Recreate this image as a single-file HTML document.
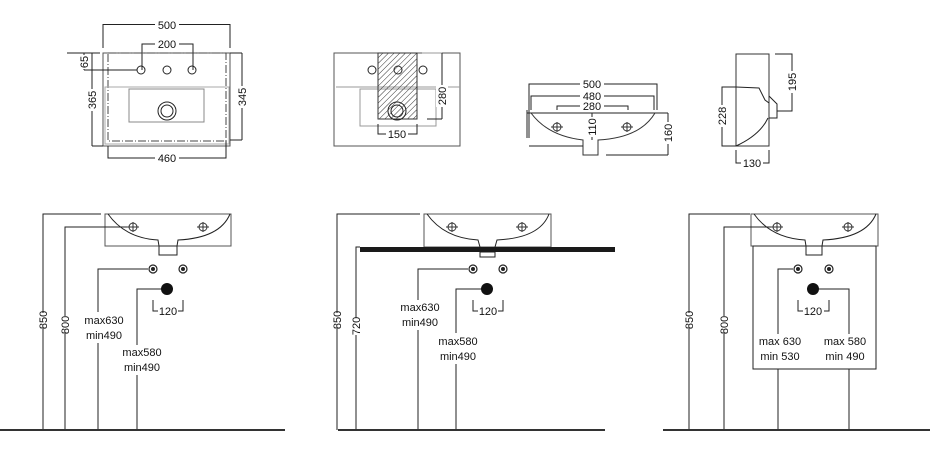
<!DOCTYPE html>
<html><head><meta charset="utf-8"><style>
html,body{margin:0;padding:0;background:#fff;}
svg{display:block;}
text{font-family:"Liberation Sans",Arial,sans-serif;font-size:11px;fill:#111;}
</style></head><body>
<svg width="944" height="463" viewBox="0 0 944 463" xmlns="http://www.w3.org/2000/svg">
<defs>
<pattern id="h" patternUnits="userSpaceOnUse" width="4" height="4" patternTransform="rotate(45)">
<line x1="0" y1="0" x2="0" y2="4" stroke="#333" stroke-width="1"/>
</pattern>
<g id="cross"><circle r="4" fill="none" stroke="#333"/><line x1="-6" y1="0" x2="6" y2="0" stroke="#333"/><line x1="0" y1="-5" x2="0" y2="5" stroke="#333"/></g>
<g id="sup"><circle r="4" fill="#fff" stroke="#222" stroke-width="1.2"/><circle r="2" fill="#222"/></g>
</defs>
<g fill="none" stroke="#222" stroke-width="1">
<!-- ===== Top view 1 ===== -->
<polyline points="103,48 103,24.5 230,24.5 230,48"/>
<polyline points="142,70 142,44 193,44 193,70"/>
<rect x="103" y="53" width="127" height="93" stroke="#555"/>
<rect x="108" y="53" width="118" height="88" stroke="#444" stroke-dasharray="8,2,1,2"/>
<rect x="105" y="87" width="124" height="57" stroke="#aaa"/>
<rect x="129" y="89" width="75" height="33" stroke="#888"/>
<circle cx="167" cy="111" r="9"/><circle cx="167" cy="111" r="6"/>
<circle cx="141" cy="70" r="4"/><circle cx="167" cy="70" r="4"/><circle cx="192" cy="70" r="4"/>
<line x1="67" y1="53" x2="100" y2="53"/>
<line x1="84" y1="70" x2="137" y2="70"/>
<line x1="84" y1="53" x2="84" y2="70"/>
<line x1="92" y1="53" x2="92" y2="146"/><line x1="92" y1="146" x2="103" y2="146"/>
<line x1="230" y1="53" x2="242" y2="53"/><line x1="230" y1="140" x2="242" y2="140"/>
<line x1="242" y1="53" x2="242" y2="140"/>
<polyline points="108,146 108,158 226,158 226,141"/>
<!-- ===== Top view 2 ===== -->
<rect x="334" y="53" width="126" height="93" stroke="#555"/>
<line x1="336" y1="87" x2="460" y2="87" stroke="#999"/>
<rect x="360" y="89" width="76" height="37" stroke="#999"/>
<rect x="378" y="53" width="39" height="66" fill="url(#h)" stroke="#333"/>
<circle cx="372" cy="70" r="4"/><circle cx="398" cy="70" r="4"/><circle cx="423" cy="70" r="4"/>
<circle cx="397" cy="111" r="9"/><circle cx="397" cy="111" r="6"/>
<line x1="422" y1="53" x2="442" y2="53" stroke="#999"/>
<line x1="427" y1="119" x2="442" y2="119"/>
<line x1="442" y1="53" x2="442" y2="119"/>
<polyline points="378,124 378,134 417,134 417,124"/>
<!-- ===== Front view ===== -->
<polyline points="529,138 529,84 657,84 657,110"/>
<polyline points="531,110 531,96 654,96 654,110"/>
<polyline points="557,110 557,106 628,106 628,110"/>
<line x1="527" y1="113" x2="657" y2="113"/>
<line x1="527" y1="110" x2="527" y2="138"/>
<path d="M531,113 Q548,136 583,140 L583,155 L598,155 L598,140 Q640,138 655,113" stroke="#333"/>
<line x1="529" y1="146" x2="583" y2="146"/>
<line x1="606" y1="155" x2="668" y2="155"/>
<line x1="657" y1="113" x2="668" y2="113"/>
<line x1="668" y1="113" x2="668" y2="155"/>
<line x1="592" y1="113" x2="592" y2="140"/>
<!-- side view -->
<rect x="736" y="54" width="33" height="92" stroke="#333"/>
<path d="M736,87 L759,88 L765,100 L769,103 M769,96 L777,104 L777,118 L769,118 M768,118 Q760,135 736,146"/>
<polyline points="775,54 792,54 792,111 777,111"/>
<polyline points="736,87 722,87 722,146 736,146"/>
<polyline points="736,150 736,163 769,163 769,150"/>
<!-- ===== Bottom 1 ===== -->
<rect x="105" y="214" width="126" height="32" stroke="#555"/>
<path d="M108,214 Q125,238 158,240 L159,246 M177,246 L178,240 Q220,238 230,214"/>
<rect x="159" y="246" width="18" height="9"/>
<polyline points="101,214 43,214 43,313"/><line x1="43" y1="328" x2="43" y2="430"/>
<polyline points="130,227 65,227 65,316"/><line x1="65" y1="333" x2="65" y2="430"/>
<polyline points="148,269 98,269 98,312"/><line x1="98" y1="343" x2="98" y2="430"/>
<polyline points="161,289 137,289 137,345"/><line x1="137" y1="375" x2="137" y2="430"/>
<polyline points="153,300 153,311 158,311"/><polyline points="178,311 183,311 183,300"/>
<!-- ===== Bottom 2 ===== -->
<rect x="424" y="214" width="127" height="33" stroke="#555"/>
<path d="M427,214 Q444,238 478,240 L480,247 M495,247 L497,240 Q540,238 549,214"/>
<rect x="480" y="252" width="15" height="5"/>
<polyline points="420,214 337,214 337,313"/><line x1="337" y1="328" x2="337" y2="430"/>
<polyline points="360,247 356,247 356,318"/><line x1="356" y1="335" x2="356" y2="430"/>
<polyline points="468,269 418,269 418,300"/><line x1="418" y1="330" x2="418" y2="430"/>
<polyline points="481,289 456,289 456,333"/><line x1="456" y1="364" x2="456" y2="430"/>
<polyline points="473,300 473,311 478,311"/><polyline points="498,311 503,311 503,300"/>
<!-- ===== Bottom 3 ===== -->
<rect x="751" y="214" width="127" height="32" stroke="#555"/>
<rect x="753" y="246" width="123" height="123"/>
<path d="M754,214 Q771,238 805,240 L806,246 M822,246 L823,240 Q866,238 876,214"/>
<rect x="806" y="246" width="16" height="9"/>
<polyline points="750,214 689,214 689,313"/><line x1="689" y1="328" x2="689" y2="430"/>
<polyline points="780,227 724,227 724,316"/><line x1="724" y1="333" x2="724" y2="430"/>
<polyline points="793,269 778,269 778,334"/><line x1="778" y1="369" x2="778" y2="430"/>
<polyline points="819,289 849,289 849,334"/><line x1="849" y1="369" x2="849" y2="430"/>
<polyline points="798,300 798,311 803,311"/><polyline points="824,311 829,311 829,300"/>
</g>
<!-- countertop & ground -->
<rect x="360" y="247" width="255" height="5" fill="#1a1a1a"/>
<rect x="0" y="429" width="285" height="2" fill="#333"/>
<rect x="338" y="429" width="267" height="2" fill="#333"/>
<rect x="663" y="429" width="267" height="2" fill="#333"/>
<!-- symbols -->
<use href="#cross" x="557" y="127"/><use href="#cross" x="627" y="127"/>
<use href="#cross" x="133" y="227"/><use href="#cross" x="203" y="227"/>
<use href="#cross" x="452" y="227"/><use href="#cross" x="522" y="227"/>
<use href="#cross" x="777" y="227"/><use href="#cross" x="848" y="227"/>
<use href="#sup" x="153" y="269"/><use href="#sup" x="183" y="269"/>
<use href="#sup" x="473" y="269"/><use href="#sup" x="503" y="269"/>
<use href="#sup" x="798" y="269"/><use href="#sup" x="829" y="269"/>
<circle cx="167" cy="289" r="6" fill="#111"/>
<circle cx="487" cy="289" r="6" fill="#111"/>
<circle cx="813" cy="289" r="6" fill="#111"/>
<!-- labels -->
<g text-anchor="middle">
<rect x="155" y="18" width="24" height="12" fill="#fff"/><text x="167" y="29">500</text>
<rect x="155" y="38" width="24" height="12" fill="#fff"/><text x="167" y="48">200</text>
<rect x="155" y="152" width="24" height="12" fill="#fff"/><text x="167" y="162">460</text>
<rect x="386" y="128" width="22" height="12" fill="#fff"/><text x="397" y="138">150</text>
<rect x="580" y="78" width="24" height="12" fill="#fff"/><text x="592" y="88">500</text>
<rect x="580" y="90" width="24" height="12" fill="#fff"/><text x="592" y="100">480</text>
<rect x="580" y="100" width="24" height="12" fill="#fff"/><text x="592" y="110">280</text>
<rect x="741" y="157" width="22" height="12" fill="#fff"/><text x="752" y="167">130</text>
<text x="168" y="315">120</text><text x="488" y="315">120</text><text x="813" y="315">120</text>
<text x="104" y="324">max630</text><text x="104" y="339">min490</text>
<text x="142" y="356">max580</text><text x="142" y="371">min490</text>
<text x="420" y="311">max630</text><text x="420" y="326">min490</text>
<text x="458" y="345">max580</text><text x="458" y="360">min490</text>
<text x="780" y="345">max 630</text><text x="780" y="360">min 530</text>
<text x="845" y="345">max 580</text><text x="845" y="360">min 490</text>
</g>
<g text-anchor="middle">
<g transform="translate(84,62) rotate(-90)"><rect x="-7" y="-5" width="14" height="10" fill="#fff"/><text y="4">65</text></g>
<g transform="translate(92,100) rotate(-90)"><rect x="-11" y="-6" width="22" height="12" fill="#fff"/><text y="4">365</text></g>
<g transform="translate(242,97) rotate(-90)"><rect x="-11" y="-6" width="22" height="12" fill="#fff"/><text y="4">345</text></g>
<g transform="translate(442,96) rotate(-90)"><rect x="-11" y="-6" width="22" height="12" fill="#fff"/><text y="4">280</text></g>
<g transform="translate(592,127) rotate(-90)"><rect x="-10" y="-6" width="20" height="12" fill="#fff"/><text y="4">110</text></g>
<g transform="translate(668,133) rotate(-90)"><rect x="-11" y="-6" width="22" height="12" fill="#fff"/><text y="4">160</text></g>
<g transform="translate(792,82) rotate(-90)"><rect x="-11" y="-6" width="22" height="12" fill="#fff"/><text y="4">195</text></g>
<g transform="translate(722,116) rotate(-90)"><rect x="-11" y="-6" width="22" height="12" fill="#fff"/><text y="4">228</text></g>
<g transform="translate(43,320) rotate(-90)"><text y="4">850</text></g>
<g transform="translate(65,325) rotate(-90)"><text y="4">800</text></g>
<g transform="translate(337,320) rotate(-90)"><text y="4">850</text></g>
<g transform="translate(356,326) rotate(-90)"><text y="4">720</text></g>
<g transform="translate(689,320) rotate(-90)"><text y="4">850</text></g>
<g transform="translate(724,325) rotate(-90)"><text y="4">800</text></g>
</g>
</svg>
</body></html>
